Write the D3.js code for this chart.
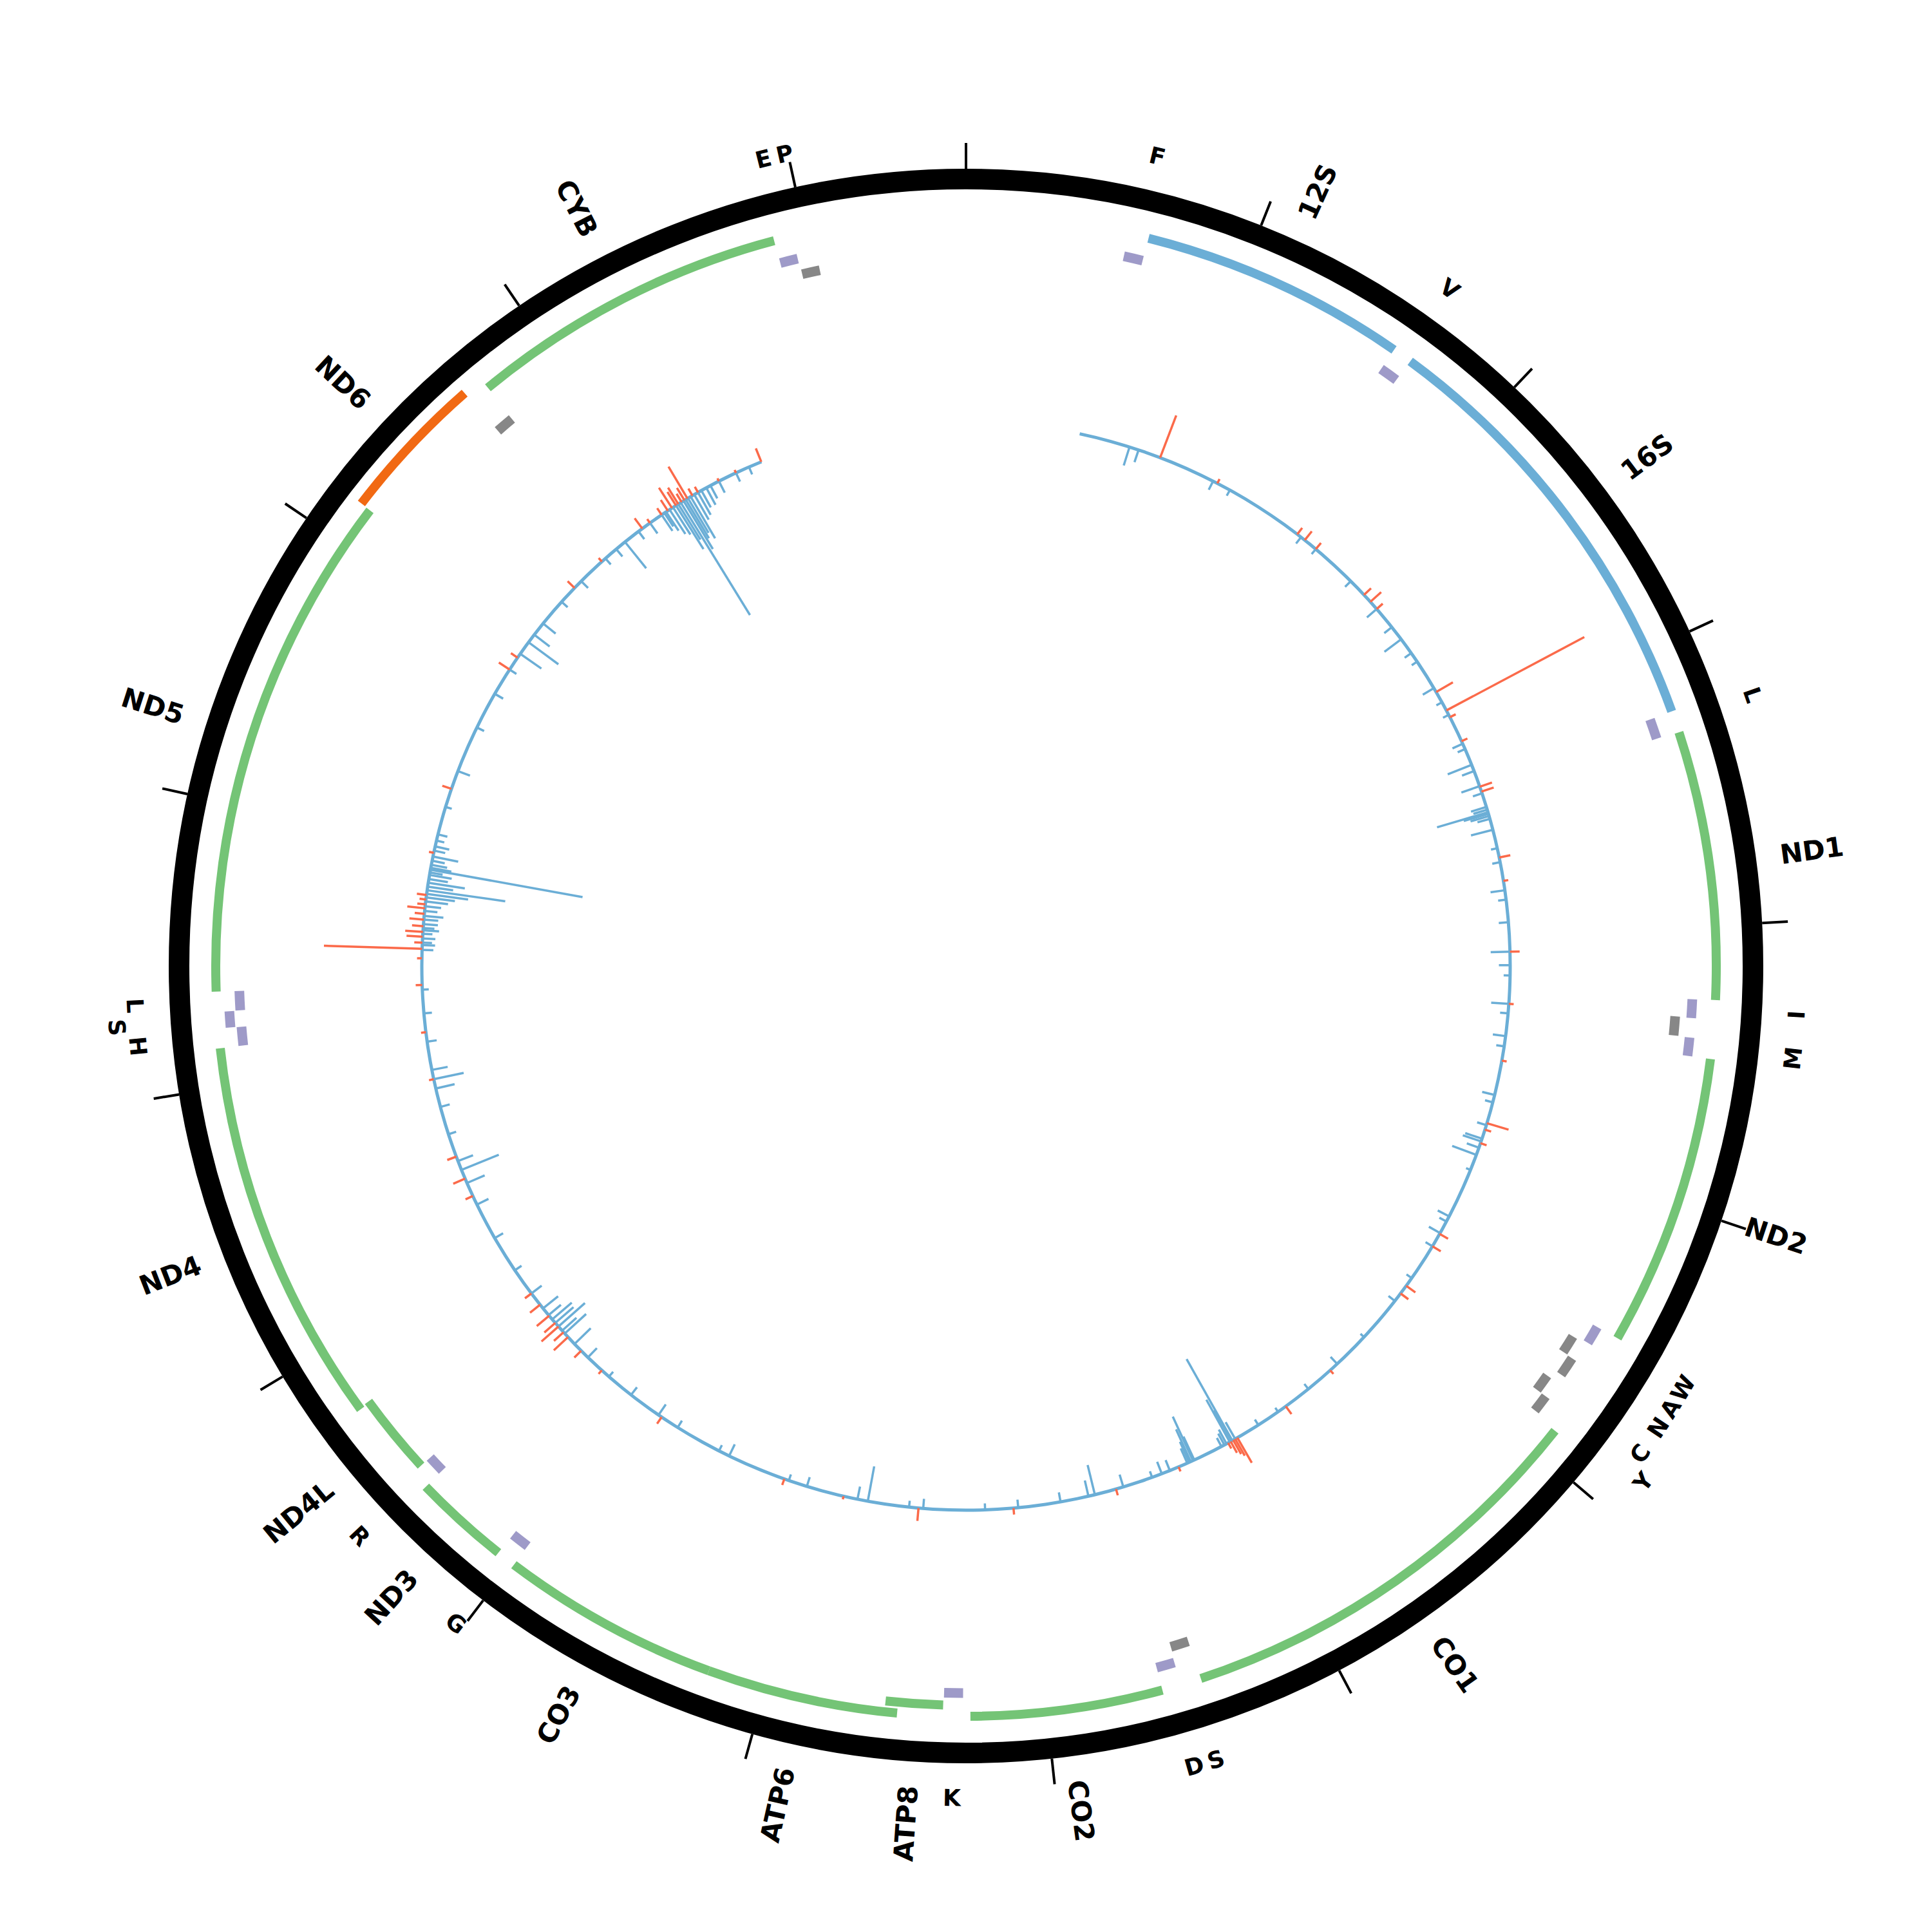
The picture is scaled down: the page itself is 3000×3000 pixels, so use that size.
<!DOCTYPE html>
<html>
<head>
<meta charset="utf-8">
<script src="https://cdn.jsdelivr.net/npm/d3@7"></script>
<style>
  body { margin: 0; background: #fff; }
  text { font-family: "DejaVu Sans", sans-serif; fill: #000; font-weight: bold; }
</style>
</head>
<body>
<div id="chart"></div>
<script>
const genomeLength = 16569;
const tickStep = 1000;

// [name, start, end, strand]
const rrnaGenes = [
  ["12S", 648, 1601, "H"],
  ["16S", 1671, 3229, "H"]
];
const proteinGenes = [
  ["ND1", 3307, 4262, "H"],
  ["ND2", 4470, 5511, "H"],
  ["CO1", 5904, 7445, "H"],
  ["CO2", 7586, 8269, "H"],
  ["ATP8", 8366, 8572, "H"],
  ["ATP6", 8527, 9207, "H"],
  ["CO3", 9207, 9990, "H"],
  ["ND3", 10059, 10404, "H"],
  ["ND4L", 10470, 10766, "H"],
  ["ND4", 10760, 12137, "H"],
  ["ND5", 12337, 14148, "H"],
  ["ND6", 14149, 14673, "L"],
  ["CYB", 14747, 15887, "H"]
];
// [label, start, end, strand]  (labels as printed on the figure)
const trnaGenes = [
  ["F", 577, 647, "H"],
  ["V", 1602, 1670, "H"],
  ["L", 3230, 3304, "H"],
  ["I", 4263, 4331, "H"],
  ["", 4329, 4400, "L"],
  ["M", 4402, 4469, "H"],
  ["W", 5512, 5579, "H"],
  ["A", 5587, 5655, "L"],
  ["N", 5657, 5729, "L"],
  ["C", 5761, 5826, "L"],
  ["Y", 5826, 5891, "L"],
  ["S", 7446, 7514, "L"],
  ["D", 7518, 7585, "H"],
  ["K", 8295, 8364, "H"],
  ["G", 9991, 10058, "H"],
  ["R", 10405, 10469, "H"],
  ["H", 12138, 12206, "H"],
  ["S", 12207, 12265, "H"],
  ["L", 12266, 12336, "H"],
  ["", 14674, 14742, "L"],
  ["E", 15888, 15953, "H"],
  ["P", 15956, 16023, "L"]
];

// inner track: covered range and spikes [position, value]
const coverageRange = [555, 15553];
const blueSpikes = [
  [805,12],[851,8],[1243,6],[1335,4],[1749,5],[1841,4],[2071,5],[2255,8],[2370,6],[2444,13],
  [2527,5],[2577,4],[2729,8],[2808,4],[2877,4],[3033,7],[3061,5],[3144,16],[3176,8],[3254,12],
  [3291,6],[3360,10],[3374,9],[3387,33],[3395,16],[3406,12],[3420,8],[3475,14],[3567,4],[3636,5],
  [3774,9],[3820,5],[3930,6],[4073,12],[4138,7],[4188,4],[4326,11],[4372,5],[4483,8],[4533,5],
  [4773,8],[4810,5],[4925,6],[4994,11],[5008,12],[5040,8],[5077,16],[5155,3],[5403,8],[5431,5],
  [5495,8],[5569,5],[5753,4],[5891,5],[6121,3],[6305,6],[6490,4],[6674,3],[6789,4],[6920,12],
  [6936,58],[6940,22],[6950,30],[6968,10],[6980,8],[6996,6],[7143,16],[7150,30],[7162,22],[7170,14],
  [7180,10],[7272,7],[7314,8],[7364,4],[7511,8],[7654,19],[7686,10],[7824,6],[8031,5],[8192,4],
  [8492,6],[8561,4],[8763,22],[8814,8],[9067,6],[9159,4],[9472,8],[9527,4],[9757,5],[9868,8],
  [10033,6],[10172,4],[10310,8],[10402,14],[10471,18],[10490,12],[10517,22],[10540,15],[10563,16],[10590,10],
  [10632,12],[10724,8],[10862,5],[11046,6],[11230,8],[11345,12],[11414,25],[11460,10],[11598,5],[11736,6],
  [11828,12],[11874,19],[11920,10],[12059,6],[12197,5],[12312,4],[12505,7],[12528,8],[12540,6],[12560,8],
  [12583,6],[12600,10],[12611,7],[12630,9],[12652,9],[12670,12],[12694,8],[12717,10],[12740,14],[12760,18],
  [12777,26],[12795,49],[12813,16],[12832,23],[12850,12],[12870,14],[12882,8],[12896,96],[12905,13],[12920,10],
  [12940,8],[12961,16],[12990,7],[13011,9],[13040,5],[13071,6],[13209,4],[13393,8],[13623,5],[13808,6],
  [13946,5],[14038,16],[14107,23],[14153,12],[14222,10],[14360,5],[14498,6],[14659,5],[14728,6],[14783,21],
  [14866,6],[14935,8],[15004,12],[15020,10],[15030,14],[15050,18],[15070,20],[15087,32],[15100,26],[15114,82],
  [15130,35],[15142,28],[15155,25],[15170,30],[15190,18],[15211,16],[15230,12],[15257,12],[15280,9],[15326,8],
  [15418,6],[15487,5]
];
const redSpikes = [
  [962,28],[1266,3],[1726,5],[1772,7],[1841,5],[2163,6],[2209,9],[2255,5],[2751,12],[2853,97],
  [2890,4],[3019,4],[3257,8],[3282,8],[3613,7],[3728,3],[4073,6],[4326,3],[4603,3],[4915,14],
  [4948,4],[5017,4],[5500,6],[5569,6],[5799,7],[5845,6],[6351,3],[6628,6],[6908,18],[6920,12],
  [6931,10],[6945,8],[6959,4],[7226,3],[7548,4],[8054,4],[8515,8],[8883,2],[9182,4],[9850,5],
  [10218,3],[10356,6],[10448,12],[10480,8],[10517,14],[10540,9],[10586,10],[10655,8],[10724,5],[11276,5],
  [11368,8],[11483,6],[11874,3],[12105,3],[12335,4],[12464,3],[12510,61],[12540,5],[12569,10],[12592,11],
  [12620,7],[12652,9],[12680,6],[12707,11],[12726,5],[12750,4],[12772,6],[12979,3],[13301,6],[13946,8],
  [14015,5],[14452,6],[14636,3],[14889,8],[14935,3],[15004,5],[15040,8],[15064,15],[15087,10],[15100,12],
  [15119,6],[15135,9],[15152,23],[15180,5],[15211,4],[15326,2],[15418,2],[15552,9]
];

const W = 3000, H = 3000, cx = 1500, cy = 1500;
const ringR = 1222, ringW = 32;
const tickIn = 1238, tickOut = 1278;
const geneR = 1165, geneW = 14, laneStep = 17;
const trnaR = { H: 1129, L: 1104 }, trnaW = 15;
const baseR = 845;
const geneLabelR = 1276, trnaLabelR = 1292, labelPush = 30, labelMinGap = 68;

const colors = {
  rRNA: "#6baed6", protein: "#74c476", proteinL: "#f16913",
  trnaH: "#9e9ac8", trnaL: "#878787",
  blue: "#6baed6", red: "#fb6a4a"
};

const angle = d3.scaleLinear().domain([0, genomeLength]).range([0, 2 * Math.PI]);
const depth = d3.scaleLinear().domain([0, 100]).range([0, 250]);

const svg = d3.select("#chart").append("svg")
  .attr("width", W).attr("height", H)
  .style("background", "#fff");
const g = svg.append("g").attr("transform", `translate(${cx},${cy})`);

// outer ring and ticks
g.append("circle").attr("r", ringR).attr("fill", "none")
  .attr("stroke", "#000").attr("stroke-width", ringW);

const ticks = d3.range(0, genomeLength, tickStep);
g.selectAll("line.tick").data(ticks).enter().append("line")
  .attr("class", "tick")
  .attr("x1", d => tickIn * Math.sin(angle(d)))
  .attr("y1", d => -tickIn * Math.cos(angle(d)))
  .attr("x2", d => tickOut * Math.sin(angle(d)))
  .attr("y2", d => -tickOut * Math.cos(angle(d)))
  .attr("stroke", "#000").attr("stroke-width", 4);

// gene lanes: L strand outward, shorter of two overlapping genes inward
const genes = rrnaGenes.map(d => ({ name: d[0], start: d[1], end: d[2], strand: d[3], kind: "rRNA" }))
  .concat(proteinGenes.map(d => ({ name: d[0], start: d[1], end: d[2], strand: d[3], kind: "protein" })));
genes.forEach(a => {
  a.lane = 0;
  if (a.strand === "L") { a.lane = 1; return; }
  genes.forEach(b => {
    if (a === b) return;
    const ov = Math.min(a.end, b.end) - Math.max(a.start, b.start);
    if (ov > 0 && (a.end - a.start) < (b.end - b.start)) a.lane = -1;
  });
});

const arc = d3.arc();
g.selectAll("path.gene").data(genes).enter().append("path")
  .attr("class", "gene")
  .attr("d", d => {
    const r = geneR + d.lane * laneStep;
    return arc({ innerRadius: r - geneW / 2, outerRadius: r + geneW / 2,
                 startAngle: angle(d.start), endAngle: angle(d.end) });
  })
  .attr("fill", d => d.kind === "rRNA" ? colors.rRNA : (d.strand === "L" ? colors.proteinL : colors.protein));

// tRNA lanes: alternate adjacent tRNAs on the same strand
const trnas = trnaGenes.map(d => ({ label: d[0], start: d[1], end: d[2], strand: d[3] }));
const lastByStrand = {};
trnas.forEach(t => {
  const p = lastByStrand[t.strand];
  t.lane = (p && t.start - p.end <= 5 && p.lane === 0) ? 1 : 0;
  lastByStrand[t.strand] = t;
});
g.selectAll("path.trna").data(trnas).enter().append("path")
  .attr("class", "trna")
  .attr("d", d => {
    const r = trnaR[d.strand] + d.lane * laneStep;
    return arc({ innerRadius: r - trnaW / 2, outerRadius: r + trnaW / 2,
                 startAngle: angle(d.start), endAngle: angle(d.end) });
  })
  .attr("fill", d => d.strand === "H" ? colors.trnaH : colors.trnaL);

// labels
function deg(bp) { return angle(bp) * 180 / Math.PI; }
g.selectAll("text.glabel").data(genes).enter().append("text")
  .attr("class", "glabel")
  .attr("font-size", 42)
  .attr("dominant-baseline", "central")
  .attr("text-anchor", d => deg((d.start + d.end) / 2) < 180 ? "start" : "end")
  .attr("transform", d => {
    const m = (d.start + d.end) / 2, a = angle(m), t = deg(m);
    const rot = t < 180 ? t - 90 : t - 270;
    return `translate(${geneLabelR * Math.sin(a)},${-geneLabelR * Math.cos(a)}) rotate(${rot})`;
  })
  .text(d => d.name);

// tRNA labels pushed outward when too close to the previous one
const tlabels = trnas.filter(d => d.label).map(d => ({ label: d.label, mid: (d.start + d.end) / 2 }));
let prevMid = -1e9;
tlabels.forEach(l => {
  l.push = (l.mid - prevMid < labelMinGap) ? 1 : 0;
  if (!l.push) prevMid = l.mid;
});
g.selectAll("text.tlabel").data(tlabels).enter().append("text")
  .attr("class", "tlabel")
  .attr("font-size", 36)
  .attr("dominant-baseline", "central")
  .attr("text-anchor", "middle")
  .attr("transform", d => {
    const a = angle(d.mid), t = deg(d.mid), r = trnaLabelR + d.push * labelPush;
    const rot = (t > 90 && t < 270) ? t - 180 : t;
    return `translate(${r * Math.sin(a)},${-r * Math.cos(a)}) rotate(${rot})`;
  })
  .text(d => d.label);

// inner track
g.append("path")
  .attr("d", arc({ innerRadius: baseR - 2.5, outerRadius: baseR + 2.5,
                   startAngle: angle(coverageRange[0]), endAngle: angle(coverageRange[1]) }))
  .attr("fill", colors.blue);

const spike = d3.lineRadial().angle(d => d[0]).radius(d => d[1]);
g.selectAll("path.blue").data(blueSpikes).enter().append("path")
  .attr("class", "blue")
  .attr("d", d => spike([[angle(d[0]), baseR], [angle(d[0]), baseR - depth(d[1])]]))
  .attr("stroke", colors.blue).attr("stroke-width", 3.5).attr("fill", "none");
g.selectAll("path.red").data(redSpikes).enter().append("path")
  .attr("class", "red")
  .attr("d", d => spike([[angle(d[0]), baseR], [angle(d[0]), baseR + depth(d[1])]]))
  .attr("stroke", colors.red).attr("stroke-width", 3.5).attr("fill", "none");
</script>
</body>
</html>
